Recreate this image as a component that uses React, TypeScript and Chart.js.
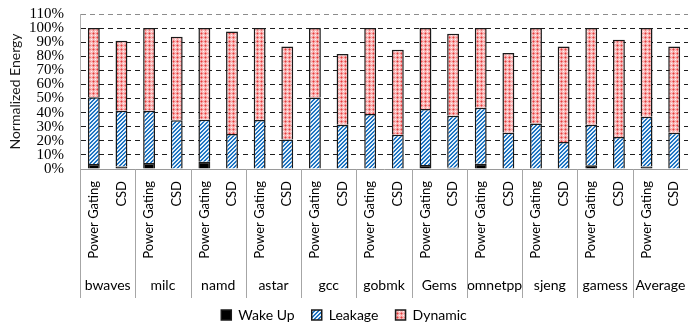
import React, { useEffect, useRef } from 'react';
import { Chart, registerables } from 'chart.js';

Chart.register(...registerables);

const groups = ['bwaves', 'milc', 'namd', 'astar', 'gcc', 'gobmk', 'Gems', 'omnetpp', 'sjeng', 'gamess', 'Average'];
const configs = ['Power Gating', 'CSD'];
const seriesNames = ['Wake Up', 'Leakage', 'Dynamic'];

const pgWakeUp = [3.5, 4.2, 5.2, 0, 0, 0, 2.8, 3.8, 0, 2.6, 1.8];
const pgLeakage = [47.5, 37.1, 29.8, 34.7, 50.8, 39, 39.7, 39.7, 32.3, 28.8, 35.3];
const pgDynamic = [49, 58.7, 65, 65.3, 49.2, 61, 57.5, 56.5, 67.7, 68.6, 62.9];

const csdWakeUp = [1.8, 0, 0, 0, 0, 0, 0.8, 0, 0, 0, 0];
const csdLeakage = [39.5, 34.6, 24.8, 21, 31.4, 24.3, 37, 25.7, 19.1, 22.7, 25.7];
const csdDynamic = [49.7, 59.2, 72.8, 66, 50.2, 60.3, 58.2, 56.6, 67.9, 69, 61.3];

const yMin = 0;
const yMax = 110;
const yStep = 10;

function interleave(a: number[], b: number[]): number[] {
  const out: number[] = [];
  for (let i = 0; i < a.length; i++) {
    out.push(a[i], b[i]);
  }
  return out;
}

function makePattern(kind: 'leak' | 'dyn'): CanvasPattern | string {
  const c = document.createElement('canvas');
  c.width = 4;
  c.height = 4;
  const g = c.getContext('2d');
  if (!g) return kind === 'leak' ? '#2a7fc9' : '#f4a6a6';
  for (let y = 0; y < 4; y++) {
    for (let x = 0; x < 4; x++) {
      let col: string;
      if (kind === 'leak') {
        col = (x + y) % 4 < 2 ? '#1f74c2' : '#e3f1fb';
      } else {
        const plus = (x === 1 && y === 0) || (x === 0 && y === 1) || (x === 2 && y === 1) || (x === 1 && y === 2);
        const centre = x === 1 && y === 1;
        col = centre ? '#e83c3c' : plus ? '#f07a7a' : (x === 3 && y === 3 ? '#fff4f4' : '#f9bcbc');
      }
      g.fillStyle = col;
      g.fillRect(x, y, 1, 1);
    }
  }
  const p = g.createPattern(c, 'repeat');
  return p || (kind === 'leak' ? '#2a7fc9' : '#f4a6a6');
}

const separatorPlugin = {
  id: 'groupSeparators',
  afterDraw(chart: any) {
    const xs = chart.scales.x;
    const x2 = chart.scales.x2;
    const ctx = chart.ctx;
    const half = (xs.getPixelForValue(1) - xs.getPixelForValue(0)) / 2;
    ctx.save();
    ctx.strokeStyle = '#a6a6a6';
    ctx.lineWidth = 1;
    for (let i = 0; i <= groups.length; i++) {
      const px = Math.round(xs.getPixelForValue(2 * i) - half) + 0.5;
      ctx.beginPath();
      ctx.moveTo(px, chart.chartArea.bottom);
      ctx.lineTo(px, x2.bottom);
      ctx.stroke();
    }
    ctx.restore();
  },
};

export default function App() {
  const ref = useRef<HTMLCanvasElement | null>(null);

  useEffect(() => {
    document.body.style.margin = '0';
    const canvas = ref.current;
    if (!canvas) return;

    const labels: string[] = [];
    groups.forEach(() => labels.push(configs[0], configs[1]));

    const leakPattern = makePattern('leak');
    const dynPattern = makePattern('dyn');

    const chart = new Chart(canvas, {
      type: 'bar',
      data: {
        labels,
        datasets: [
          {
            label: seriesNames[0],
            data: interleave(pgWakeUp, csdWakeUp),
            backgroundColor: '#000000',
            borderColor: '#1a1a1a',
            borderWidth: 1.5,
          },
          {
            label: seriesNames[1],
            data: interleave(pgLeakage, csdLeakage),
            backgroundColor: leakPattern as any,
            borderColor: '#1a1a1a',
            borderWidth: 1.5,
          },
          {
            label: seriesNames[2],
            data: interleave(pgDynamic, csdDynamic),
            backgroundColor: dynPattern as any,
            borderColor: '#1a1a1a',
            borderWidth: 1.5,
          },
        ],
      },
      options: {
        responsive: false,
        animation: false,
        layout: { padding: { left: 0, right: 0, top: 14, bottom: -4 } },
        datasets: {
          bar: { barPercentage: 0.43, categoryPercentage: 1 },
        },
        plugins: {
          tooltip: { enabled: false },
          legend: {
            position: 'bottom',
            labels: {
              boxWidth: 10,
              boxHeight: 10,
              padding: 10,
              color: '#000',
              font: { family: 'Lato', size: 14 },
              generateLabels: (ch: any) => {
                const items = Chart.defaults.plugins.legend.labels.generateLabels(ch);
                return items.map((it: any, i: number) => ({
                  ...it,
                  text: i < items.length - 1 ? it.text + '  ' : it.text,
                }));
              },
            },
          },
        },
        scales: {
          x: {
            stacked: true,
            grid: { display: false, drawTicks: false },
            border: { display: true, color: '#9a9a9a', width: 1 },
            ticks: {
              autoSkip: false,
              minRotation: 90,
              maxRotation: 90,
              padding: 12,
              color: '#000',
              font: { family: 'Lato', size: 13 },
            },
            afterFit: (s: any) => {
              s.height = 98;
              s.paddingLeft = 0;
              s.paddingRight = 0;
            },
          },
          x2: {
            type: 'category',
            labels: groups,
            position: 'bottom',
            offset: true,
            weight: 1,
            grid: { display: false, drawTicks: false },
            border: { display: false },
            ticks: {
              autoSkip: false,
              maxRotation: 0,
              minRotation: 0,
              padding: 10.5,
              color: '#000',
              font: { family: 'Lato', size: 14 },
            },
            afterFit: (s: any) => {
              s.height = 31;
              s.paddingLeft = 0;
              s.paddingRight = 0;
            },
          },
          y: {
            stacked: true,
            min: yMin,
            max: yMax,
            ticks: {
              stepSize: yStep,
              autoSkip: false,
              padding: 16,
              color: '#000',
              font: { family: 'Liberation Serif', size: 15 },
              callback: (v: any) => v + '%',
            },
            grid: {
              drawTicks: false,
              lineWidth: 1,
              color: (c: any) => {
                const v = c.tick ? c.tick.value : null;
                if (v === 0) return 'rgba(0,0,0,0)';
                if (v === 110) return '#8c8c8c';
                return '#1e1e1e';
              },
            },
            border: { display: true, color: '#b0b0b0', width: 1, dash: [5, 4] },
            title: {
              display: true,
              text: 'Normalized Energy',
              color: '#1a1a1a',
              font: { family: 'Lato', size: 14 },
              padding: { top: 7.5, bottom: 0 },
            },
            afterFit: (s: any) => {
              s.width = 80;
              s.paddingTop = 0;
              s.paddingBottom = 0;
            },
          },
        },
      },
      plugins: [separatorPlugin],
    });

    return () => {
      chart.destroy();
    };
  }, []);

  return (
    <div style={{ width: 688, height: 328 }}>
      <canvas ref={ref} width={688} height={328} />
    </div>
  );
}
